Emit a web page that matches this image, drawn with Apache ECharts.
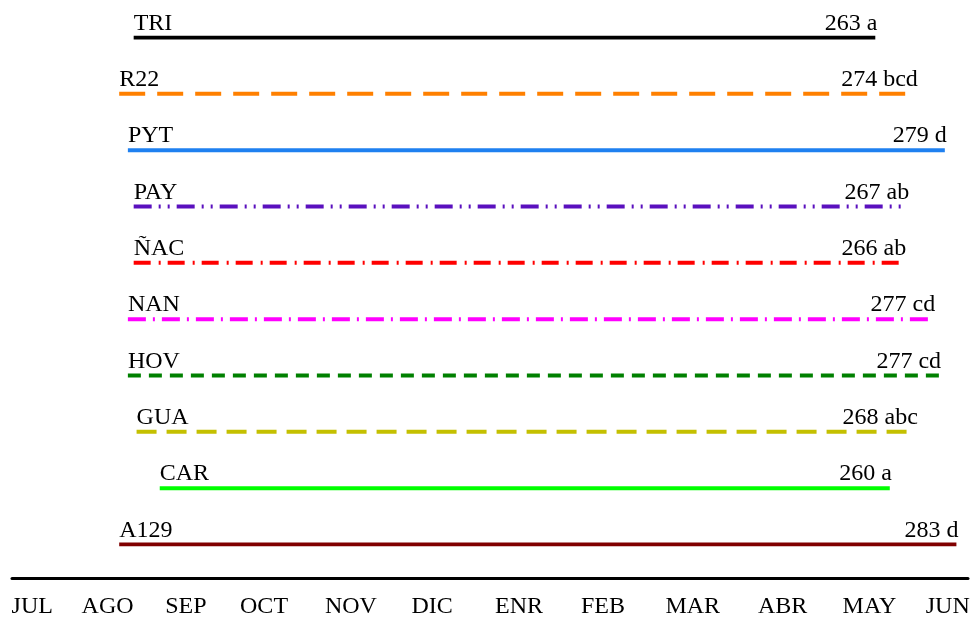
<!DOCTYPE html>
<html>
<head>
<meta charset="utf-8">
<script src="https://cdn.jsdelivr.net/npm/echarts@6/dist/echarts.min.js"></script>
<style>
  html, body { margin: 0; padding: 0; background: #fff; }
  #chart { width: 971px; height: 618px; }
</style>
</head>
<body>
<div id="chart"></div>
<script>
// datos
const varieties = ['TRI', 'R22', 'PYT', 'PAY', 'ÑAC', 'NAN', 'HOV', 'GUA', 'CAR', 'A129'];
const cycleDays = [263, 274, 279, 267, 266, 277, 277, 268, 260, 283];
const groups = ['a', 'bcd', 'd', 'ab', 'ab', 'cd', 'cd', 'abc', 'a', 'd'];
// inicio y fin de cada ciclo (dias desde el borde del eje)
const startDay = [42, 37, 40, 42, 42, 40, 40, 43, 51, 37];
const endDay = [298, 312, 322, 309, 308, 318, 320, 312, 303, 326];
// etiquetas de meses
const months = ['JUL', 'AGO', 'SEP', 'OCT', 'NOV', 'DIC', 'ENR', 'FEB', 'MAR', 'ABR', 'MAY', 'JUN'];
const monthPos = [7, 33, 60, 87, 117, 145, 175, 204, 235, 266, 296, 323];

// estilos de linea
const colors = ['#000000', '#ff8000', '#1f80f0', '#5a10be', '#ff0000', '#ff00ff', '#008000', '#c4c000', '#00ff00', '#800000'];
const dashes = ['solid', [26, 12], 'solid', [18, 7, 2, 7, 2, 7], [17, 8, 2, 7], [18, 7, 2, 7], [13, 8], [20, 10], 'solid', 'solid'];

const font = 'Liberation Serif';

const series = varieties.map((name, i) => ({
  type: 'line',
  symbol: 'circle',
  symbolSize: 0,
  silent: true,
  lineStyle: { color: colors[i], width: 4, type: dashes[i], cap: 'butt' },
  itemStyle: { color: colors[i] },
  label: {
    show: true,
    position: 'top',
    distance: 2,
    color: '#000',
    fontFamily: font,
    fontSize: 24
  },
  data: [
    { value: [startDay[i], name], label: { align: 'left', formatter: name } },
    { value: [endDay[i], name], label: { align: 'right', offset: [2, 0], formatter: cycleDays[i] + ' ' + groups[i] } }
  ]
}));

const chart = echarts.init(document.getElementById('chart'));
chart.setOption({
  animation: false,
  grid: { left: 12, right: 3, top: 37.5, bottom: 73.5, containLabel: false, outerBoundsMode: 'none' },
  xAxis: {
    type: 'value',
    min: 0,
    max: 330,
    offset: 33.5,
    axisLine: { show: true, lineStyle: { color: '#000', width: 3 } },
    axisTick: { show: false },
    splitLine: { show: false },
    axisLabel: {
      customValues: monthPos,
      formatter: v => months[monthPos.indexOf(v)],
      color: '#000',
      fontFamily: font,
      fontSize: 24,
      margin: 17
    }
  },
  yAxis: {
    type: 'category',
    inverse: true,
    boundaryGap: false,
    data: varieties,
    show: false
  },
  series: series
});
</script>
</body>
</html>
